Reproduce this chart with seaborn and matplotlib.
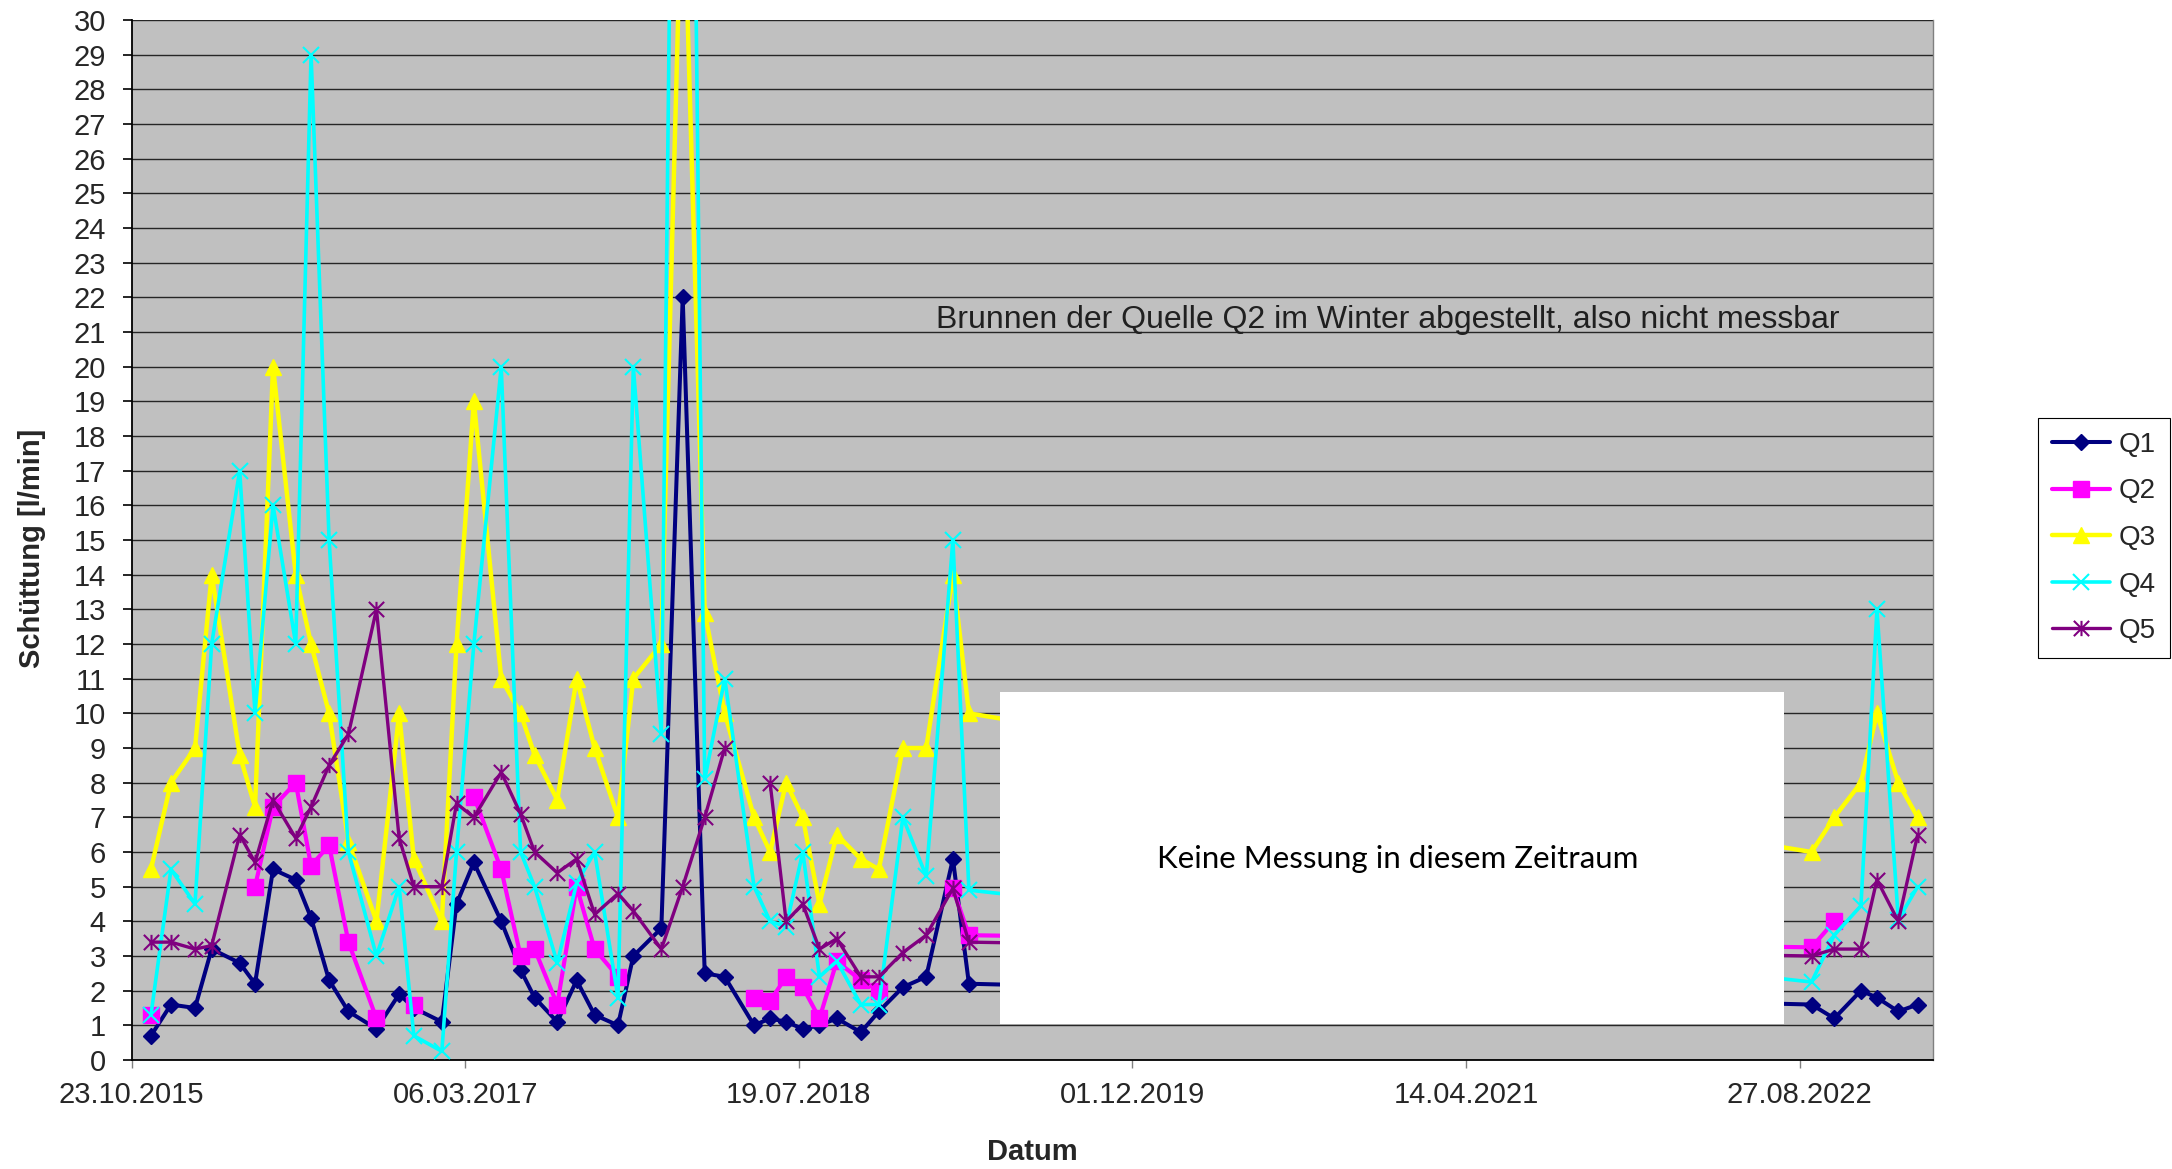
import numpy as np
import pandas as pd
import matplotlib
matplotlib.use("Agg")
import matplotlib.pyplot as plt
import matplotlib.dates as mdates
from matplotlib.path import Path
from matplotlib.lines import Line2D
from matplotlib.patches import Rectangle
import seaborn as sns

# ---------------- data ----------------
dates = [
    "2015-11-21", "2015-12-21", "2016-01-26", "2016-02-20", "2016-04-02", "2016-04-25",
    "2016-05-22", "2016-06-25", "2016-07-18", "2016-08-14", "2016-09-12", "2016-10-24",
    "2016-11-27", "2016-12-19", "2017-01-30", "2017-02-21", "2017-03-19", "2017-04-29",
    "2017-05-28", "2017-06-18", "2017-07-22", "2017-08-20", "2017-09-16", "2017-10-21",
    "2017-11-13", "2017-12-25", "2018-01-26", "2018-02-28", "2018-03-30", "2018-05-13",
    "2018-06-06", "2018-06-30", "2018-07-25", "2018-08-19", "2018-09-14", "2018-10-20",
    "2018-11-16", "2018-12-22", "2019-01-26", "2019-03-07", "2019-03-31",
    "2022-09-14", "2022-10-18", "2022-11-27", "2022-12-21", "2023-01-22", "2023-02-20",
]
nan = np.nan
q1 = [0.7, 1.6, 1.5, 3.2, 2.8, 2.2, 5.5, 5.2, 4.1, 2.3, 1.4, 0.9,
      1.9, 1.5, 1.1, 4.5, 5.7, 4.0, 2.6, 1.8, 1.1, 2.3, 1.3, 1.0,
      3.0, 3.8, 22.0, 2.5, 2.4, 1.0, 1.2, 1.1, 0.9, 1.0, 1.2, 0.8,
      1.4, 2.1, 2.4, 5.8, 2.2,
      1.6, 1.2, 2.0, 1.8, 1.4, 1.6]
q2 = [1.3, nan, nan, nan, nan, 5.0, 7.3, 8.0, 5.6, 6.2, 3.4, 1.2,
      nan, 1.6, nan, nan, 7.6, 5.5, 3.0, 3.2, 1.6, 5.0, 3.2, 2.4,
      nan, nan, nan, nan, nan, 1.8, 1.7, 2.4, 2.1, 1.2, 2.85, 2.3,
      2.0, nan, nan, 4.95, 3.6,
      3.25, 4.0, nan, nan, nan, nan]
q3 = [5.5, 8.0, 9.0, 14.0, 8.8, 7.3, 20.0, 14.0, 12.0, 10.0, 6.3, 4.0,
      10.0, 5.8, 4.0, 12.0, 19.0, 11.0, 10.0, 8.8, 7.5, 11.0, 9.0, 7.0,
      11.0, 12.0, 35.0, 12.9, 10.0, 7.0, 6.0, 8.0, 7.0, 4.5, 6.5, 5.8,
      5.5, 9.0, 9.0, 14.0, 10.0,
      6.0, 7.0, 8.0, 10.0, 8.0, 7.0]
q4 = [1.3, 5.5, 4.5, 12.0, 17.0, 10.0, 16.0, 12.0, 29.0, 15.0, 6.0, 3.0,
      5.0, 0.7, 0.25, 6.0, 12.0, 20.0, 6.0, 5.0, 2.8, 5.1, 6.0, 1.8,
      20.0, 9.4, 65.0, 8.1, 11.0, 5.0, 4.0, 3.85, 6.0, 2.4, 2.85, 1.6,
      1.6, 7.0, 5.3, 15.0, 4.9,
      2.25, 3.6, 4.45, 13.0, 4.05, 5.0]
q5 = [3.4, 3.4, 3.2, 3.3, 6.5, 5.7, 7.5, 6.4, 7.3, 8.5, 9.4, 13.0,
      6.4, 5.0, 5.0, 7.4, 7.0, 8.3, 7.1, 6.0, 5.4, 5.8, 4.2, 4.8,
      4.3, 3.2, 5.0, 7.0, 9.0, nan, 8.0, 4.0, 4.5, 3.2, 3.5, 2.4,
      2.4, 3.1, 3.6, 4.95, 3.4,
      3.0, 3.2, 3.2, 5.2, 4.0, 6.5]
series_names = ["Q1", "Q2", "Q3", "Q4", "Q5"]
y_ticks = list(range(0, 31))
x_tick_dates = ["2015-10-23", "2017-03-06", "2018-07-19", "2019-12-01", "2021-04-14", "2022-08-27"]
x_limits = ["2015-10-23", "2023-03-15"]
note_top = "Brunnen der Quelle Q2 im Winter abgestellt, also nicht messbar"
note_box = "Keine Messung in diesem Zeitraum"

# ---------------- style ----------------
sns.set_style("white")
plt.rcParams["font.family"] = ["Liberation Sans", "DejaVu Sans"]

star = Path([(-0.5, -0.5), (0.5, 0.5), (-0.5, 0.5), (0.5, -0.5), (0, -0.5), (0, 0.5)],
            [Path.MOVETO, Path.LINETO, Path.MOVETO, Path.LINETO, Path.MOVETO, Path.LINETO])

styles = {
    "Q1": dict(color="#000080", marker="D", markersize=8.5, linewidth=2.9,
               markerfacecolor="#000080", markeredgecolor="#000080", markeredgewidth=1),
    "Q2": dict(color="#FF00FF", marker="s", markersize=11, linewidth=3.0,
               markerfacecolor="#FF00FF", markeredgecolor="#FF00FF", markeredgewidth=1),
    "Q3": dict(color="#FFFF00", marker="^", markersize=12, linewidth=3.2,
               markerfacecolor="#FFFF00", markeredgecolor="#FFFF00", markeredgewidth=1),
    "Q4": dict(color="#00FFFF", marker="x", markersize=11, linewidth=2.6,
               markerfacecolor="#00FFFF", markeredgecolor="#00FFFF", markeredgewidth=1.5),
    "Q5": dict(color="#800080", marker=star, markersize=11, linewidth=2.4,
               markerfacecolor="#800080", markeredgecolor="#800080", markeredgewidth=1.5),
}

fig = plt.figure(figsize=(21.72, 11.69), dpi=100)
ax = fig.add_axes([0.06059, 0.09324, 0.82937, 0.88965])
ax.set_facecolor("#C0C0C0")

x_dates = pd.to_datetime(dates)
for i, (name, vals) in enumerate(zip(series_names, [q1, q2, q3, q4, q5])):
    v = np.array(vals, dtype=float)
    d = pd.DataFrame({"Datum": x_dates, "value": v, "seg": np.isnan(v).cumsum()})
    d = d.dropna()
    sns.lineplot(data=d, x="Datum", y="value", units="seg", estimator=None, sort=False,
                 ax=ax, legend=False, zorder=3 + i * 0.1, **styles[name])

# axes
ax.set_xlim(pd.Timestamp(x_limits[0]), pd.Timestamp(x_limits[1]))
ax.set_ylim(0, 30)
ax.set_yticks(y_ticks)
ax.set_xticks(pd.to_datetime(x_tick_dates))
ax.xaxis.set_major_formatter(mdates.DateFormatter("%d.%m.%Y"))
ax.set_axisbelow(True)
ax.yaxis.grid(True, color="#262626", lw=1.0)
ax.xaxis.grid(False)

ax.tick_params(axis="y", direction="out", length=6.5, width=1.2, color="black",
               pad=12, labelsize=21, left=True)
ax.tick_params(axis="x", direction="out", length=6, width=1.0, color="#808080",
               pad=9, labelsize=21, bottom=True)

for side in ["left", "bottom"]:
    ax.spines[side].set_color("black")
    ax.spines[side].set_linewidth(1.3)
ax.spines["top"].set_visible(False)
ax.spines["right"].set_color("#808080")
ax.spines["right"].set_linewidth(1.0)

ax.set_ylabel("Schüttung [l/min]", fontsize=21, fontweight="bold")
ax.yaxis.set_label_coords(-0.0553, 0.492)
ax.yaxis.label.set_va("center")
ax.set_xlabel("Datum", fontsize=21, fontweight="bold")
ax.xaxis.set_label_coords(0.5, -0.0885)
ax.xaxis.label.set_va("center")

# white box (no data period)
ax.add_patch(Rectangle((0.482, 0.0343), 0.4355, 0.32, transform=ax.transAxes,
                       facecolor="white", edgecolor="none", zorder=5))
ax.text(0.7027, 0.1936, note_box, transform=ax.transAxes, ha="center", va="center",
        fontsize=22.5, family=["Lato", "DejaVu Sans"], color="black", zorder=6)
ax.text(0.6975, 0.7115, note_top, transform=ax.transAxes, ha="center", va="center",
        fontsize=23, color="#202020", zorder=6)

# legend
handles = [Line2D([0], [0], **styles[n]) for n in series_names]
leg = fig.legend(handles, series_names, loc="upper left", bbox_to_anchor=(0.9383, 0.6424),
                 frameon=True, fancybox=False, edgecolor="black", framealpha=1,
                 fontsize=20, handlelength=2.1, labelspacing=0.74, borderpad=0.5,
                 handletextpad=0.3, borderaxespad=0)
leg.get_frame().set_linewidth(0.8)

fig.savefig("out.png", dpi=100)
